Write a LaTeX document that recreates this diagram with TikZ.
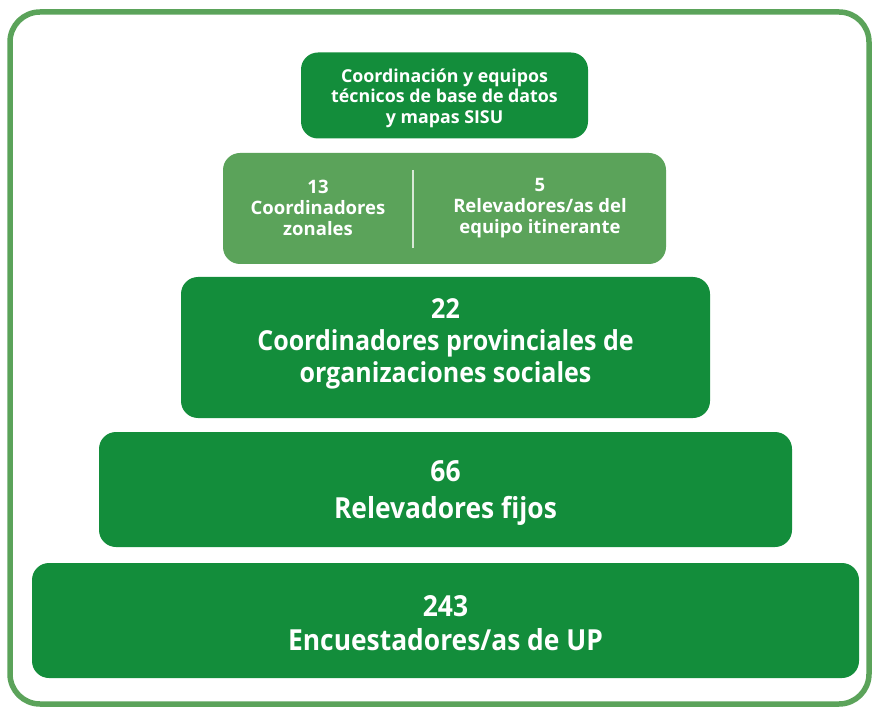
\documentclass[tikz,border=0pt]{standalone}
\usepackage{fontspec}
\setmainfont{Open Sans}
\newfontfamily\bigfont[FakeStretch=0.91]{Open Sans}
\definecolor{dkgreen}{HTML}{138D3B}
\definecolor{ltgreen}{HTML}{5BA35A}
\definecolor{divcol}{HTML}{D8E8D6}
\begin{document}
\begin{tikzpicture}[x=1pt,y=-1pt,
  box/.style={fill=dkgreen, rounded corners=17pt, text=white, align=center, inner sep=0pt},
  lbox/.style={fill=ltgreen, rounded corners=17pt, inner sep=0pt},
  small/.style={text=white, align=center, inner sep=0pt, font=\bfseries\fontsize{18.5}{21}\selectfont},
  big/.style={text=white, align=center, inner sep=0pt, font=\bigfont\bfseries\fontsize{29}{34}\selectfont}]
\useasboundingbox (0,0) rectangle (872,708);
\draw[ltgreen, line width=5.5pt, rounded corners=30pt] (10,12) rectangle (869,704);
% top box
\node[box, minimum width=287pt, minimum height=86pt] (top) at (444.5,95.5) {};
\node[small, font=\bfseries\fontsize{17.8}{20.5}\selectfont] (topt) at (444.5,98) {Coordinación y equipos\\técnicos de base de datos\\y mapas SISU};
% second box
\node[lbox, minimum width=443pt, minimum height=111pt] (second) at (444.5,208.5) {};
\node[small] (zonal) at (318,208) {13\\Coordinadores\\zonales};
\node[small] (itin) at (540,208) {5\\Relevadores/as del\\equipo itinerante};
\coordinate (divtop) at (413,170);
\coordinate (divbot) at (413,248);
\draw[divcol, line width=1.5pt] (divtop) -- (divbot);
% third
\node[box, minimum width=529pt, minimum height=141pt] (prov) at (445.5,347.5) {};
\node[big, font=\bigfont\bfseries\fontsize{27.5}{32}\selectfont] (provt) at (445.5,344)
  {22\\Coordinadores provinciales de\\organizaciones sociales};
% fourth
\node[box, minimum width=693pt, minimum height=115pt] (fijos) at (445.5,489.5) {};
\node[big, font=\bigfont\bfseries\fontsize{29}{37}\selectfont] (fijost) at (445.5,493) {66\\Relevadores fijos};
% fifth
\node[box, minimum width=827pt, minimum height=115pt] (encu) at (445.5,620.5) {};
\node[big] (encut) at (445.5,623) {243\\Encuestadores/as de UP};
\end{tikzpicture}
\end{document}
